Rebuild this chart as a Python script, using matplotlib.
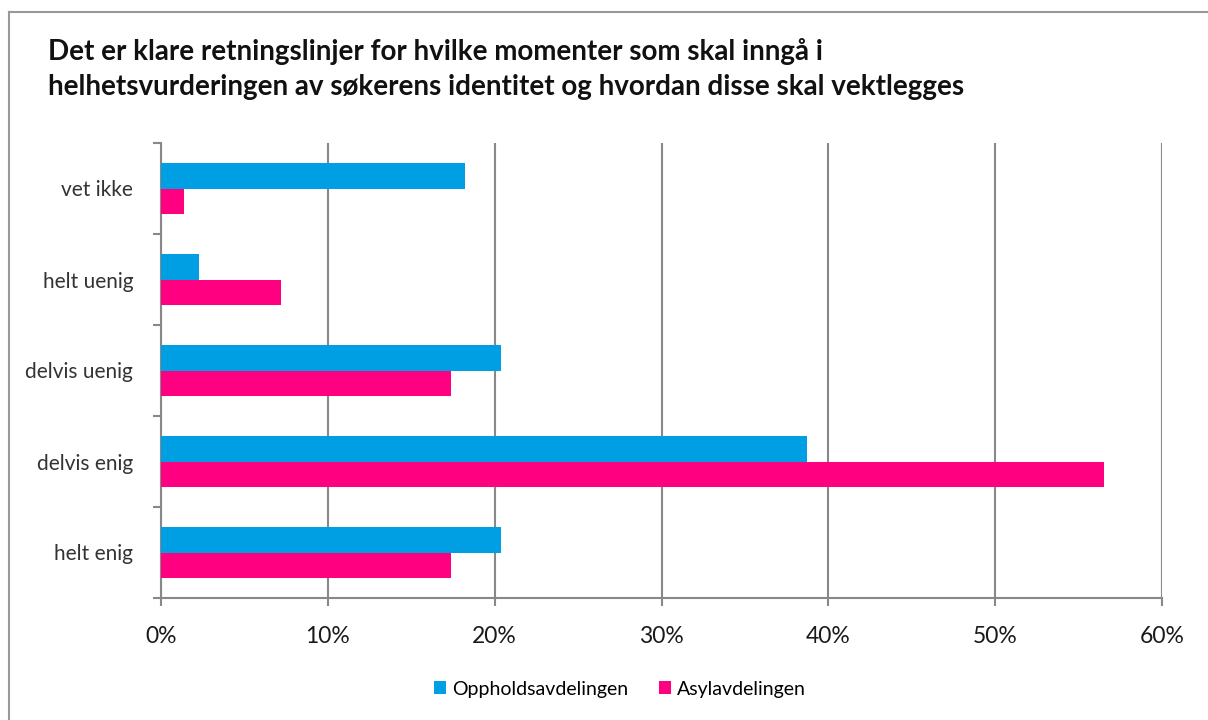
import matplotlib.pyplot as plt
from matplotlib.lines import Line2D
import numpy as np

categories = ['helt enig', 'delvis enig', 'delvis uenig', 'helt uenig', 'vet ikke']
opphold = [20.4, 38.7, 20.4, 2.3, 18.2]
asyl = [17.4, 56.5, 17.4, 7.2, 1.4]
series_names = ['Oppholdsavdelingen', 'Asylavdelingen']
xticks = [0, 10, 20, 30, 40, 50, 60]

plt.rcParams['font.family'] = ['Lato', 'DejaVu Sans']

fig = plt.figure(figsize=(12.08, 7.2), dpi=100)
ax = fig.add_axes([161 / 1208, 1 - 598 / 720, 1001 / 1208, 455 / 720])

y = np.arange(len(categories))
h = 0.285
ax.barh(y + h / 2, opphold, height=h, color='#009FE3', label=series_names[0], zorder=3)
ax.barh(y - h / 2, asyl, height=h, color='#FF0080', label=series_names[1], zorder=3)

ax.set_xlim(0, 60)
ax.set_ylim(-0.5, len(categories) - 0.5)
ax.set_xticks(xticks)
ax.set_xticklabels([f'{v}%' for v in xticks], fontsize=16.5, color='#1a1a1a')
ax.tick_params(axis='x', length=6, width=1.5, color='#888888', pad=14)
ax.xaxis.grid(True, color='#888888', linewidth=1.5, zorder=0)

ax.set_yticks(np.arange(-0.5, len(categories), 1))
ax.set_yticklabels([])
ax.set_yticks(y, minor=True)
ax.set_yticklabels(categories, minor=True, fontsize=15, color='#333333')
ax.tick_params(axis='y', which='major', length=6, width=1.5, color='#888888')
ax.tick_params(axis='y', which='minor', length=0, pad=20)

for s in ['top', 'right']:
    ax.spines[s].set_visible(False)
for s in ['left', 'bottom']:
    ax.spines[s].set_color('#888888')
    ax.spines[s].set_linewidth(1.5)

fig.text(48 / 1208, 1 - 69 / 720,
         'Det er klare retningslinjer for hvilke momenter som skal inngå i\n'
         'helhetsvurderingen av søkerens identitet og hvordan disse skal vektlegges',
         fontsize=20, fontweight='bold', color='#111111', va='center', ha='left',
         linespacing=1.45)

ax.legend(loc='center', bbox_to_anchor=(0.4585, -0.2), ncol=2, frameon=False,
          fontsize=14, handlelength=0.6, handleheight=0.6, handletextpad=0.3,
          columnspacing=1.6)

fig.add_artist(Line2D([9 / 1208, 9 / 1208], [0, 1 - 12 / 720], color='#999999', lw=1.5))
fig.add_artist(Line2D([9 / 1208, 1], [1 - 12 / 720, 1 - 12 / 720], color='#999999', lw=1.5))

fig.savefig('out.png', dpi=100)
